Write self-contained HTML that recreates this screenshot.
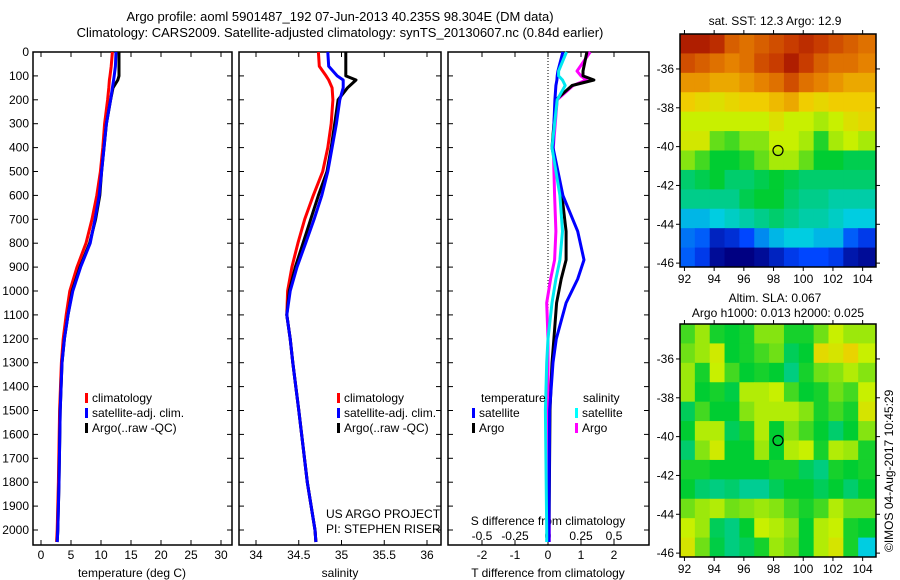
<!DOCTYPE html>
<html><head><meta charset="utf-8">
<style>
body{margin:0;background:#fff;}
svg{display:block;font-family:"Liberation Sans",sans-serif;font-size:12px;}
</style></head>
<body>
<svg id="chart" width="900" height="580" viewBox="0 0 900 580" xmlns="http://www.w3.org/2000/svg">
<text x="340" y="21" text-anchor="middle" font-size="13">Argo profile: aoml 5901487_192 07-Jun-2013 40.235S 98.304E (DM data)</text>
<text x="340" y="37" text-anchor="middle" font-size="13">Climatology: CARS2009. Satellite-adjusted climatology: synTS_20130607.nc (0.84d earlier)</text>
<g id="g"></g>
</svg>
<script>
// ---- data ----
const depths = [0,60,100,117,150,200,300,400,500,600,700,800,900,1000,1100,1200,1300,1500,1800,2000,2050];
const tempClim = [11.9,11.7,11.5,11.4,11.3,11.1,10.6,10.3,9.9,9.3,8.5,7.5,6.0,4.8,4.2,3.7,3.4,3.1,2.9,2.7,2.6];
const tempSat  = [12.5,12.4,12.2,12.1,11.9,11.6,10.9,10.5,10.1,9.7,9.0,8.2,6.6,5.3,4.5,3.9,3.5,3.2,3.0,2.8,2.7];
const tempArgo = [13.0,13.0,13.0,12.8,12.0,11.6,10.9,10.5,10.1,9.8,9.1,8.1,6.5,5.2,4.5,3.9,3.5,3.2,3.0,2.8,2.7];
const salClim = [34.73,34.74,34.82,34.85,34.89,34.90,34.88,34.84,34.78,34.67,34.57,34.49,34.42,34.37,34.36,34.40,34.43,34.50,34.60,34.69,34.70];
const salSat  = [34.84,34.85,34.95,35.02,35.02,34.98,34.94,34.89,34.84,34.77,34.68,34.58,34.48,34.40,34.36,34.40,34.43,34.50,34.60,34.69,34.70];
const salArgo = [35.05,35.05,35.05,35.17,35.07,34.96,34.92,34.88,34.83,34.73,34.64,34.55,34.46,34.39,34.36,34.40,34.43,34.50,34.60,34.69,34.70];
const diffDepths = [0,80,100,117,140,200,400,600,750,870,950,1050,1200,1300,1500,2000,2050];
const tDiffSat  = [0.45,0.30,0.28,0.27,0.24,0.21,0.15,0.45,0.90,1.09,0.90,0.55,0.25,0.15,0.05,0.03,0.03];
const tDiffArgo = [1.18,1.06,1.06,1.39,0.73,0.24,0.12,0.42,0.55,0.55,0.40,0.26,0.18,0.12,0.06,0.03,0.03];
const sDiffSat  = [0.14,0.08,0.08,0.11,0.13,0.07,0.03,0.09,0.11,0.09,0.06,0.03,0.00,-0.01,-0.02,-0.01,-0.01];
const sDiffArgo = [0.32,0.22,0.25,0.29,0.19,0.07,0.04,0.05,0.06,0.05,0.02,-0.01,0.00,0.00,0.00,0.01,0.01];
const depthTicks = [0,100,200,300,400,500,600,700,800,900,1000,1100,1200,1300,1400,1500,1600,1700,1800,1900,2000];
const tempTicks = [0,5,10,15,20,25,30];
const salTicks = [34,34.5,35,35.5,36];
const tDiffTicks = [-2,-1,0,1,2];
const sDiffTicks = [-0.5,-0.25,0,0.25,0.5];
const sDiffTickLabels = ['-0.5','-0.25','0','0.25','0.5'];
const lonTicks = [92,94,96,98,100,102,104];
const latTicks = [-36,-38,-40,-42,-44,-46];
const gridLons = [91.7,92.7,93.7,94.7,95.7,96.7,97.7,98.7,99.7,100.7,101.7,102.7,103.7,104.9];
const gridLats = [-34.2,-35.2,-36.2,-37.2,-38.2,-39.2,-40.2,-41.2,-42.2,-43.2,-44.2,-45.2,-46.2];
const sstGrid = [
[15.6,15.6,15.4,14.8,14.6,14.8,15,15.2,15.4,15.2,15,14.8,14.6],
[15,14.8,14.6,14.4,14.6,15,15.2,15.6,15.2,14.8,14.6,14.6,14.4],
[14.2,14.2,14,14,14.2,14.4,14.6,15,14.6,14.4,14.2,14,14],
[13.6,13.4,13.2,13.4,13.6,13.6,13.8,14,13.6,13.4,13.6,13.6,13.6],
[12.8,12.8,12.8,12.8,12.8,12.8,13.2,12.8,12.8,12.6,12.8,13.2,13.4],
[13,13,12.2,12,12.4,12.4,12.8,12.8,12.6,11.8,12.6,12.8,12.6],
[12.4,12,11.6,11.6,11.8,12.2,12.6,12.6,12.2,11.6,11.6,11.4,11.4],
[11.2,11.4,11.6,11.2,11.2,11.4,11.6,11.4,11.2,11.2,11.2,11.2,11.2],
[11,11,11,11,11.4,11.6,11.6,11.2,11,11,10.8,10.8,10.8],
[10.2,10.2,10.4,10.6,10.8,11,11.2,11,10.8,10.8,10.6,10.4,10.4],
[9.6,9.4,8.6,8.8,9.2,9.8,10.2,10.4,10.4,10.2,10.2,9.4,9],
[9.4,9,8.2,8,8,8.2,8.6,9,9.2,9.2,9,8.4,8.2]];
const slaGrid = [
[0,0.04,-0.02,-0.03,-0.02,0.03,0.03,-0.02,-0.02,0.02,0.06,0.04,0.04],
[0.02,0.04,0.07,-0.03,-0.02,0,0.02,-0.05,-0.03,0.1,0.08,0.11,0.06],
[0.04,-0.02,0.06,0,-0.03,-0.02,-0.03,-0.07,-0.02,0.02,0.03,0.05,0.03],
[0.04,-0.03,-0.02,-0.04,0.05,0.05,0.06,0,-0.03,-0.02,0.02,0,0.06],
[-0.05,0,-0.03,-0.03,0.03,0.05,0.05,0.05,0.03,-0.02,0,-0.02,0.08],
[-0.03,0.05,0.05,-0.05,-0.02,0.05,-0.03,0.03,0,-0.03,-0.06,-0.03,0.03],
[-0.06,0.03,0.07,-0.03,-0.03,0.04,-0.03,0.05,0.06,-0.02,0.05,0.04,-0.02],
[-0.02,-0.02,-0.03,-0.03,-0.03,-0.03,-0.02,-0.02,-0.05,-0.07,-0.02,-0.03,-0.02],
[-0.03,-0.06,-0.07,-0.06,-0.08,-0.08,-0.05,-0.03,-0.03,-0.05,-0.03,-0.06,-0.03],
[0.02,0.04,0.05,0.02,0.03,0.04,0.03,0,-0.02,0,0.05,0.02,0.02],
[0.06,0.04,-0.05,-0.07,-0.03,0.06,0.05,0.03,-0.03,0.05,0.06,-0.02,-0.03],
[0.08,0.02,-0.04,-0.07,-0.05,-0.02,0.04,0.02,-0.03,0.05,0.08,-0.02,-0.12]];
const argoLon = 98.3, argoLat = -40.2;

// ---- rendering ----
const NS='http://www.w3.org/2000/svg';
const G=document.getElementById('g');
function el(tag,attrs,parent,text){const e=document.createElementNS(NS,tag);for(const k in attrs)e.setAttribute(k,attrs[k]);if(text!==undefined)e.textContent=text;(parent||G).appendChild(e);return e;}
const yD = d => 52 + d*0.239;
const PB = 545;
const xT = v => 41 + v*6;
const xS = v => 256 + (v-34)*85.5;
const xTd = v => 548 + v*33;
const xSd = v => 548 + v*132;

function panel(name,x0,x1,leftLabels){
  const r=el('rect',{x:x0,y:52,width:x1-x0,height:PB-52,fill:'none',stroke:'#000','stroke-width':1.5});
  
  
  depthTicks.forEach(d=>{
    const y=yD(d);
    el('line',{x1:x0,y1:y,x2:x0+5,y2:y,stroke:'#000'});
    el('line',{x1:x1,y1:y,x2:x1-5,y2:y,stroke:'#000'});
    if(leftLabels){const t=el('text',{x:x0-4,y:y+4,'text-anchor':'end'},G,String(d));
      
      }
  });
}
function xAxis(ticks,fx,labels,yl){
  ticks.forEach((v,i)=>{const x=fx(v);
    el('line',{x1:x,y1:PB,x2:x,y2:PB-5,stroke:'#000'});
    el('line',{x1:x,y1:52,x2:x,y2:57,stroke:'#000'});
    const t=el('text',{x:x,y:yl,'text-anchor':'middle'},G,labels?labels[i]:String(v));
    
    });
}
function line(xs,ds,fx,color,name,w){
  const p=xs.map((v,i)=>(i?'L':'M')+fx(v).toFixed(1)+','+yD(ds[i]).toFixed(1)).join('');
  const e=el('path',{d:p,fill:'none',stroke:color,'stroke-width':w||3,'stroke-linejoin':'round'});
  
  
}
function txt(x,y,s,name,anchor){const t=el('text',{x:x,y:y,'text-anchor':anchor||'start'},G,s);
  
  return t;}
function legend(x,y,color,label){
  const r=el('rect',{x:x,y:y-9,width:3,height:10,fill:color});
  
  
  txt(x+7,y,label,'legend-entry');
}

// panel 1 temperature
panel('temperature-panel',33,232,true);
xAxis(tempTicks,xT,null,559);
txt(132,577,'temperature (deg C)','x-axis-title-temperature','middle');
line(tempClim,depths,xT,'#ff0000','temperature-climatology-line');
line(tempArgo,depths,xT,'#000000','temperature-argo-line');
line(tempSat,depths,xT,'#0000ff','temperature-satellite-line');
legend(85,402,'#ff0000','climatology');
legend(85,417,'#0000ff','satellite-adj. clim.');
legend(85,432,'#000000','Argo(..raw -QC)');

// panel 2 salinity
panel('salinity-panel',239,441,false);
xAxis(salTicks,xS,null,559);
txt(340,577,'salinity','x-axis-title-salinity','middle');
line(salClim,depths,xS,'#ff0000','salinity-climatology-line');
line(salArgo,depths,xS,'#000000','salinity-argo-line');
line(salSat,depths,xS,'#0000ff','salinity-satellite-line');
legend(337,402,'#ff0000','climatology');
legend(337,417,'#0000ff','satellite-adj. clim.');
legend(337,432,'#000000','Argo(..raw -QC)');
txt(326,518,'US ARGO PROJECT','project-label');
txt(326,533,'PI: STEPHEN RISER','pi-label');

// panel 3 differences
panel('difference-panel',448,649,false);
const zl=el('line',{x1:548,y1:52,x2:548,y2:PB,stroke:'#000','stroke-dasharray':'1,2'});


xAxis(tDiffTicks,xTd,null,559);
sDiffTicks.forEach((v,i)=>{txt(xSd(v),540,sDiffTickLabels[i],'s-diff-tick-label','middle');});
txt(548,525,'S difference from climatology','s-diff-axis-title','middle');
txt(548,577,'T difference from climatology','t-diff-axis-title','middle');
line(sDiffArgo,diffDepths,xSd,'#ff00ff','s-diff-argo-line');
line(tDiffArgo,diffDepths,xTd,'#000000','t-diff-argo-line');
line(tDiffSat,diffDepths,xTd,'#0000ff','t-diff-satellite-line');
line(sDiffSat,diffDepths,xSd,'#00e8f0','s-diff-satellite-line');
txt(481,402,'temperature','legend-title-temperature');
legend(472,417,'#0000ff','satellite');
legend(472,432,'#000000','Argo');
txt(583,402,'salinity','legend-title-salinity');
legend(575,417,'#00ffff','satellite');
legend(575,432,'#ff00ff','Argo');

// maps
const stops=[[0,[0,0,130]],[0.15,[0,70,255]],[0.3,[0,205,225]],[0.45,[0,205,50]],[0.6,[200,240,0]],[0.7,[240,205,0]],[0.8,[230,130,0]],[0.9,[200,60,0]],[1,[150,0,0]]];
function cmap(t){t=Math.max(0,Math.min(1,t));for(let i=1;i<stops.length;i++){if(t<=stops[i][0]){const a=stops[i-1],b=stops[i];const f=(t-a[0])/(b[0]-a[0]);const c=a[1].map((v,k)=>Math.round(v+(b[1][k]-v)*f));return 'rgb('+c.join(',')+')';}}return 'rgb(150,0,0)';}
function map(name,y0,y1,grid,norm){
  const x0=680,x1=876;
  const fx=lon=>x0+(lon-91.7)*(x1-x0)/(104.9-91.7);
  const fy=lat=>y0+(-34.2-lat)*(y1-y0)/12;
  grid.forEach((row,r)=>row.forEach((v,c)=>{
    const cx=fx(gridLons[c]),cy=fy(gridLats[r]);
    const e=el('rect',{x:cx,y:cy,width:fx(gridLons[c+1])-cx+0.5,height:fy(gridLats[r+1])-cy+0.5,fill:cmap(norm(v))});
    
    
  }));
  const fr=el('rect',{x:x0,y:y0,width:x1-x0,height:y1-y0,fill:'none',stroke:'#000','stroke-width':1.5});
  
  
  lonTicks.forEach(l=>{const x=fx(l);el('line',{x1:x,y1:y1,x2:x,y2:y1+4,stroke:'#000'});el('line',{x1:x,y1:y0,x2:x,y2:y0-4,stroke:'#000'});
    txt(x,y1+16,String(l),name+'-lon-label','middle');});
  latTicks.forEach(l=>{const y=fy(l);el('line',{x1:x0,y1:y,x2:x0-4,y2:y,stroke:'#000'});el('line',{x1:x1,y1:y,x2:x1+4,y2:y,stroke:'#000'});
    txt(x0-6,y+4,String(l),name+'-lat-label','end');});
  const m=el('circle',{cx:fx(argoLon),cy:fy(argoLat),r:5,fill:'none',stroke:'#000','stroke-width':1.2});
  
  
}
map('sst-map',34,267,sstGrid,v=>(v-8)/8);
map('sla-map',324,557,slaGrid,v=>(v+0.3)/0.6);
txt(775,25,'sat. SST: 12.3 Argo: 12.9','sst-map-title','middle');
txt(775,302,'Altim. SLA: 0.067','sla-map-title','middle');
txt(778,317,'Argo h1000: 0.013 h2000: 0.025','sla-map-subtitle','middle');
const cp=txt(0,0,'©IMOS 04-Aug-2017 10:45:29','copyright-label','start');
cp.setAttribute('transform','translate(893,552) rotate(-90)');
</script>
</body></html>
